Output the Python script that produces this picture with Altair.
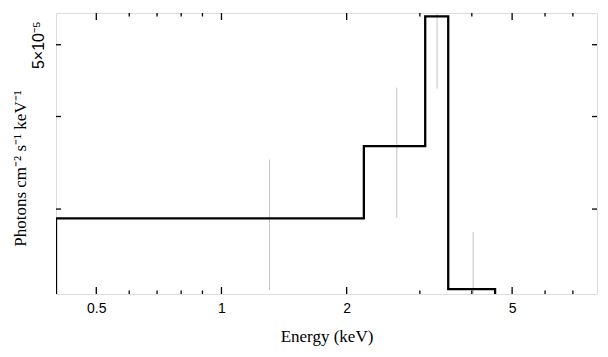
import altair as alt
import pandas as pd

# model step (keV bin edges and flux)
bin_lo = [0.4, 2.20, 3.09, 3.51]
bin_hi = [2.20, 3.09, 3.51, 4.55]
model = [2.915e-5, 3.648e-5, 5.46e-5, 2.339e-5]
floor_val = 1.0e-5

# data error bars
err_e = [1.305, 2.64, 3.30, 4.03]
err_lo = [2.332e-5, 2.92e-5, 4.363e-5, 2.2e-5]
err_hi = [3.50e-5, 4.377e-5, 5.8e-5, 2.795e-5]

x_major = [0.5, 1, 2, 5]
x_minor = [0.6, 0.7, 0.8, 0.9, 3, 4, 6, 7]
y_ticks = [3e-5, 4e-5, 5e-5]

W, H = 541, 281

pts = [(bin_lo[0], floor_val)]
for a, b, v in zip(bin_lo, bin_hi, model):
    pts += [(a, v), (b, v)]
pts.append((bin_hi[-1], floor_val))
step_df = pd.DataFrame({"E": [p[0] for p in pts], "F": [p[1] for p in pts],
                        "o": list(range(len(pts)))})
err_df = pd.DataFrame({"E": err_e, "lo": err_lo, "hi": err_hi})
xmaj_df = pd.DataFrame({"E": x_major})
xmin_df = pd.DataFrame({"E": x_minor})
yt_df = pd.DataFrame({"F": y_ticks})

xs = alt.Scale(type="log", domain=[0.4, 8], nice=False)
ys = alt.Scale(type="log", domain=[2.304e-5, 5.518e-5], nice=False)

x_axis = alt.Axis(values=x_major, format="~g", ticks=False, grid=False, domain=False,
                  labelFont="Liberation Sans", labelFontSize=14, labelColor="black",
                  labelPadding=7, title="Energy (keV)", titleFont="Liberation Serif",
                  titleFontSize=17, titleFontWeight="normal", titleColor="black",
                  titlePadding=13)
y_axis = alt.Axis(values=[5e-5], labelExpr="'5×10⁻⁵'", ticks=False, grid=False, domain=False,
                  labelFont="Liberation Sans", labelFontSize=16, labelColor="black",
                  labelAngle=270, labelAlign="center", labelBaseline="bottom",
                  labelPadding=10, title="Photons cm⁻² s⁻¹ keV⁻¹",
                  titleFont="Liberation Serif", titleFontSize=17, titleFontWeight="normal",
                  titleColor="black", titleAngle=270, titleX=-36, titleY=155,
                  titleAlign="center", titleBaseline="middle")

step = alt.Chart(step_df).mark_line(color="black", strokeWidth=2.3, clip=True).encode(
    x=alt.X("E:Q", scale=xs, axis=x_axis),
    y=alt.Y("F:Q", scale=ys, axis=y_axis),
    order="o:Q",
)

errs = alt.Chart(err_df).mark_rule(color="#c4c4c4", strokeWidth=1, clip=True).encode(
    x=alt.X("E:Q", scale=xs),
    y=alt.Y("lo:Q", scale=ys),
    y2="hi:Q",
)

def xticks(df, length):
    bot = alt.Chart(df).mark_rule(color="black", strokeWidth=1.3).encode(
        x=alt.X("E:Q", scale=xs), y=alt.value(H), y2=alt.value(H - length))
    top = alt.Chart(df).mark_rule(color="black", strokeWidth=1.3).encode(
        x=alt.X("E:Q", scale=xs), y=alt.value(0), y2=alt.value(length))
    return [bot, top]

yl = alt.Chart(yt_df).mark_rule(color="black", strokeWidth=1.3).encode(
    y=alt.Y("F:Q", scale=ys), x=alt.value(0), x2=alt.value(5))
yr = alt.Chart(yt_df).mark_rule(color="black", strokeWidth=1.3).encode(
    y=alt.Y("F:Q", scale=ys), x=alt.value(W), x2=alt.value(W - 5))

chart = alt.layer(errs, step, *xticks(xmaj_df, 7), *xticks(xmin_df, 3.5), yl, yr).properties(
    width=W, height=H,
    autosize=alt.AutoSizeParams(type="none"),
    padding={"left": 48, "top": 5, "right": 3, "bottom": 55},
).configure_view(stroke="black", strokeWidth=1.5).configure(background="white")

chart.save("out.html", embed_options={"renderer": "svg", "actions": False})
